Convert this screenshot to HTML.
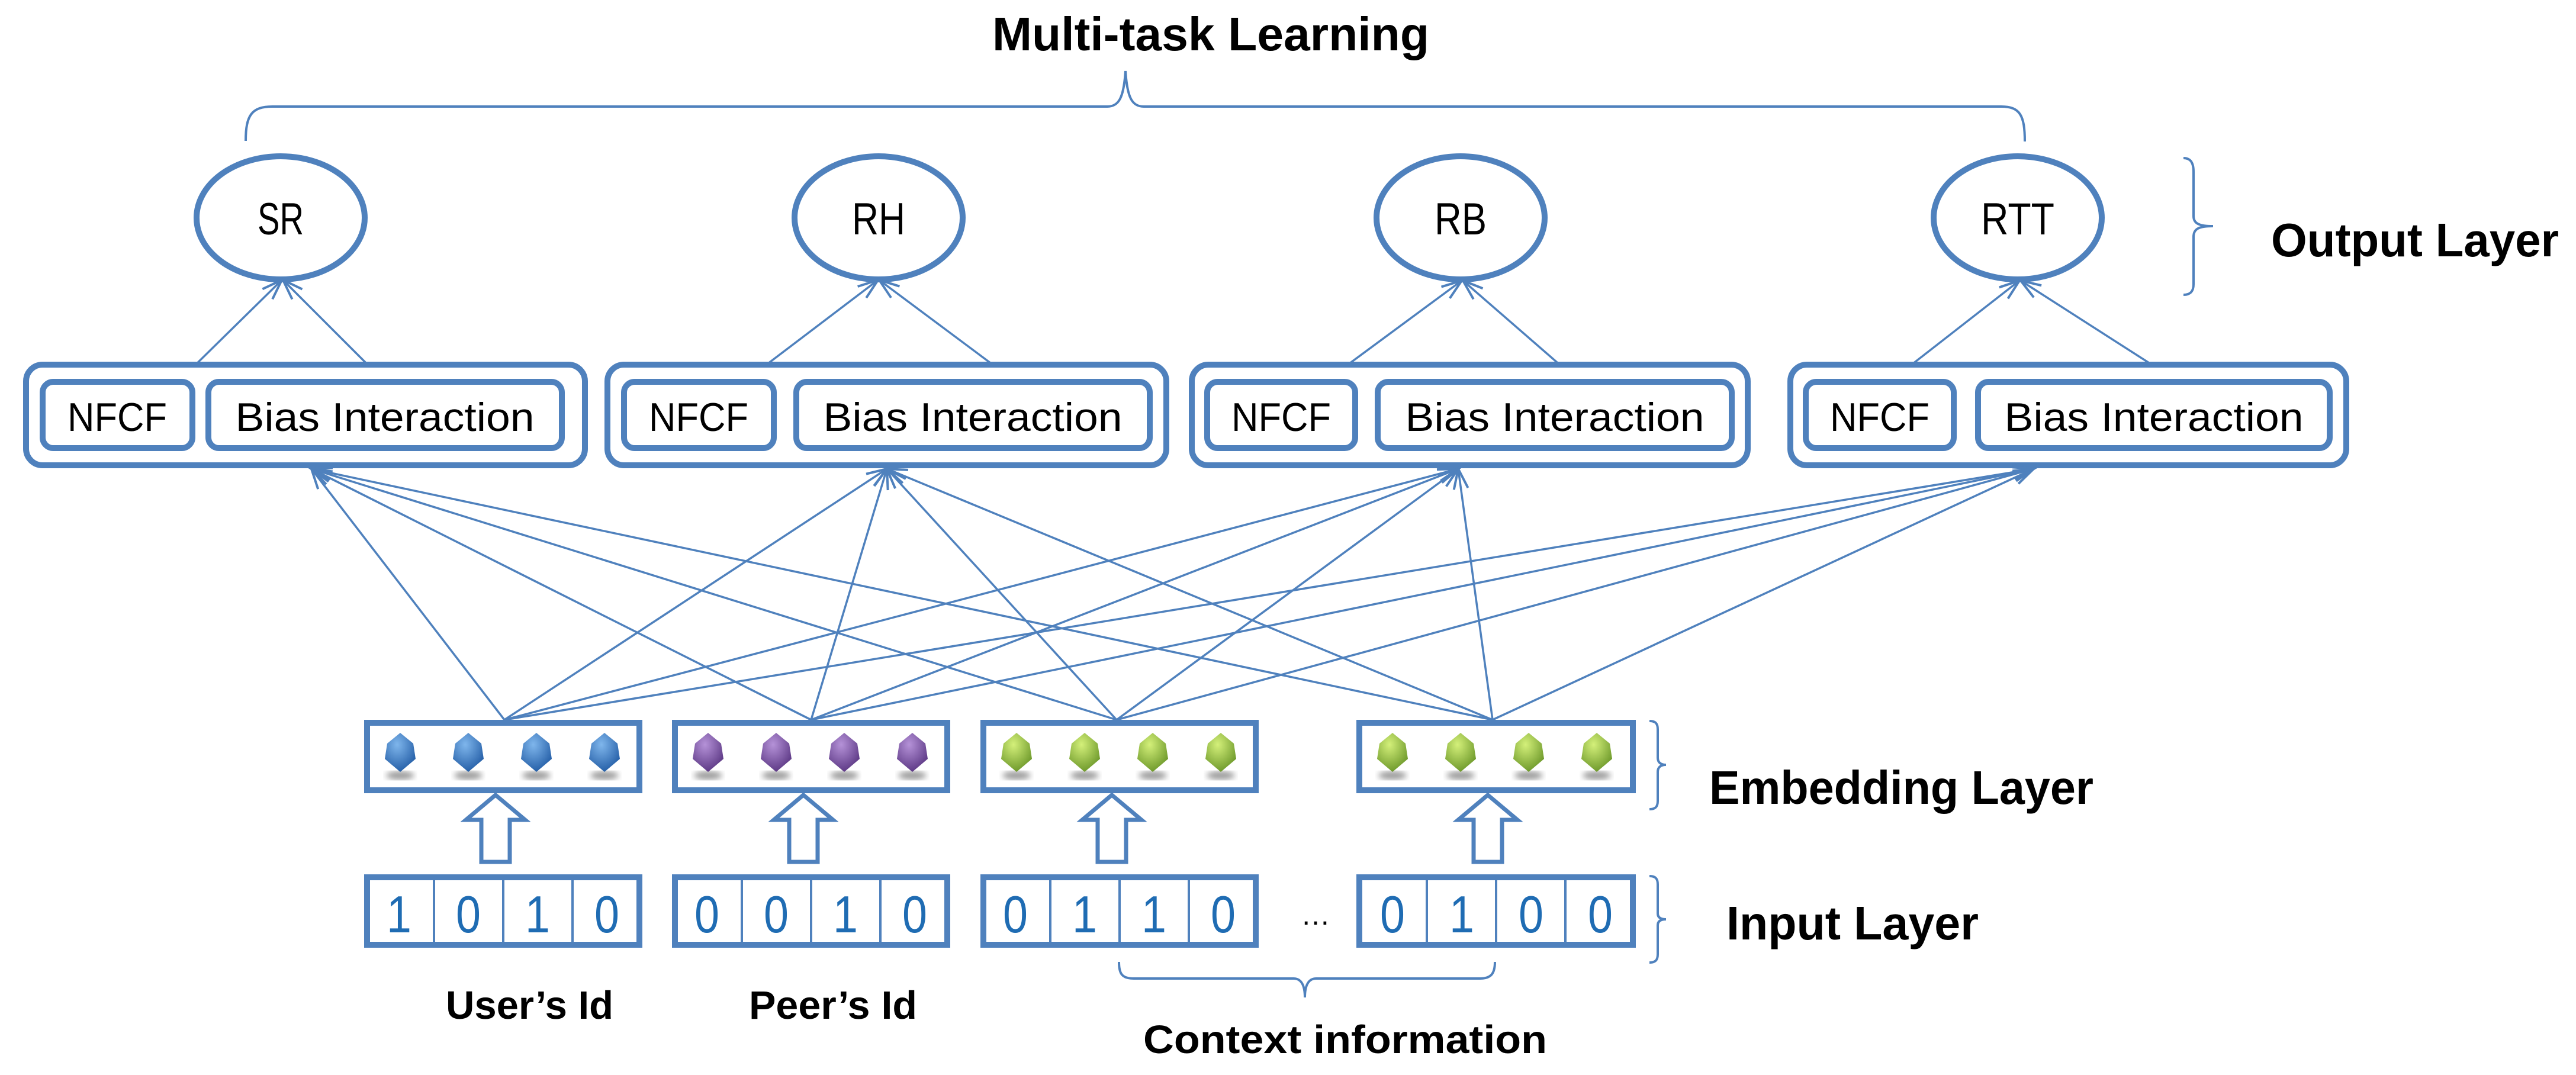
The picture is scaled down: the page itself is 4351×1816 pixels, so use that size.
<!DOCTYPE html>
<html><head><meta charset="utf-8"><style>
html,body{margin:0;padding:0;background:#fff}
svg{display:block}
text{font-family:"Liberation Sans",sans-serif}
</style></head><body>
<svg width="4351" height="1816" viewBox="0 0 4351 1816" xmlns="http://www.w3.org/2000/svg">
<defs>
<marker id="ah" markerUnits="userSpaceOnUse" markerWidth="44" markerHeight="44" refX="38" refY="20" orient="auto">
<path d="M4,8 L38,20 L4,32" fill="none" stroke="#4f81bd" stroke-width="4"/>
</marker>
<radialGradient id="gb" cx="40%" cy="30%" r="70%"><stop offset="0" stop-color="#7fb6ec"/><stop offset="1" stop-color="#2660a8"/></radialGradient>
<radialGradient id="gp" cx="40%" cy="30%" r="70%"><stop offset="0" stop-color="#b592d8"/><stop offset="1" stop-color="#5e3a86"/></radialGradient>
<radialGradient id="gg" cx="40%" cy="30%" r="70%"><stop offset="0" stop-color="#d4f07a"/><stop offset="1" stop-color="#6f9a2c"/></radialGradient>
<filter id="bl"><feGaussianBlur stdDeviation="5"/></filter>
<g id="hb"><ellipse cx="0" cy="38" rx="24" ry="7" fill="#999" filter="url(#bl)"/><polygon points="0,-34 22,-16 26,10 0,32 -26,10 -22,-16" fill="url(#gb)"/></g>
<g id="hp"><ellipse cx="0" cy="38" rx="24" ry="7" fill="#999" filter="url(#bl)"/><polygon points="0,-34 22,-16 26,10 0,32 -26,10 -22,-16" fill="url(#gp)"/></g>
<g id="hg"><ellipse cx="0" cy="38" rx="24" ry="7" fill="#999" filter="url(#bl)"/><polygon points="0,-34 22,-16 26,10 0,32 -26,10 -22,-16" fill="url(#gg)"/></g>
</defs>

<text x="1676" y="85" font-size="80" font-weight="bold" textLength="738" lengthAdjust="spacingAndGlyphs">Multi-task Learning</text>
<path d="M415,238 C415,195 425,180 460,180 L1870,180 C1890,180 1898,165 1901,120 C1904,165 1912,180 1932,180 L3380,180 C3412,180 3420,195 3420,239" fill="none" stroke="#4f81bd" stroke-width="4"/>

<path d="M3688,267 C3700,267 3705,275 3705,290 L3705,365 C3705,378 3715,382 3738,382 C3715,382 3705,386 3705,400 L3705,480 C3705,492 3700,498 3688,498" fill="none" stroke="#4f81bd" stroke-width="4"/>
<text x="3836" y="433" font-size="80" font-weight="bold" textLength="486" lengthAdjust="spacingAndGlyphs">Output Layer</text>

<g fill="#fff" stroke="#4f81bd" stroke-width="10">
<ellipse cx="474" cy="368" rx="142" ry="104"/>
<ellipse cx="1484" cy="368" rx="142" ry="104"/>
<ellipse cx="2467" cy="368" rx="142" ry="104"/>
<ellipse cx="3408" cy="368" rx="142" ry="104"/>
</g>
<g font-size="76" text-anchor="middle">
<text x="474" y="396" textLength="78" lengthAdjust="spacingAndGlyphs">SR</text>
<text x="1484" y="396" textLength="90" lengthAdjust="spacingAndGlyphs">RH</text>
<text x="2467" y="396" textLength="88" lengthAdjust="spacingAndGlyphs">RB</text>
<text x="3408" y="396" textLength="124" lengthAdjust="spacingAndGlyphs">RTT</text>
</g>

<g stroke="#4f81bd" stroke-width="3.5" fill="none" marker-end="url(#ah)">
<line x1="306" y1="640" x2="476" y2="473"/>
<line x1="645" y1="640" x2="478" y2="473"/>
<line x1="1263" y1="640" x2="1483" y2="473"/>
<line x1="1709" y1="640" x2="1485" y2="473"/>
<line x1="2244" y1="640" x2="2469" y2="474"/>
<line x1="2662" y1="640" x2="2471" y2="474"/>
<line x1="3198" y1="640" x2="3411" y2="474"/>
<line x1="3672" y1="640" x2="3413" y2="474"/>
</g>

<g fill="#fff" stroke="#4f81bd" stroke-width="10">
<rect x="44" y="616" width="944" height="170" rx="28"/>
<rect x="1026" y="616" width="944" height="170" rx="28"/>
<rect x="2013" y="616" width="939" height="170" rx="28"/>
<rect x="3024" y="616" width="939" height="170" rx="28"/>
<rect x="72" y="645" width="253" height="112" rx="18"/>
<rect x="352" y="645" width="597" height="112" rx="18"/>
<rect x="1054" y="645" width="253" height="112" rx="18"/>
<rect x="1345" y="645" width="597" height="112" rx="18"/>
<rect x="2039" y="645" width="250" height="112" rx="18"/>
<rect x="2327" y="645" width="598" height="112" rx="18"/>
<rect x="3050" y="645" width="250" height="112" rx="18"/>
<rect x="3341" y="645" width="594" height="112" rx="18"/>
</g>
<g font-size="68" text-anchor="middle">
<text x="198" y="728" textLength="168" lengthAdjust="spacingAndGlyphs">NFCF</text>
<text x="650" y="728" textLength="505" lengthAdjust="spacingAndGlyphs">Bias Interaction</text>
<text x="1180" y="728" textLength="168" lengthAdjust="spacingAndGlyphs">NFCF</text>
<text x="1643" y="728" textLength="505" lengthAdjust="spacingAndGlyphs">Bias Interaction</text>
<text x="2164" y="728" textLength="168" lengthAdjust="spacingAndGlyphs">NFCF</text>
<text x="2626" y="728" textLength="505" lengthAdjust="spacingAndGlyphs">Bias Interaction</text>
<text x="3175" y="728" textLength="168" lengthAdjust="spacingAndGlyphs">NFCF</text>
<text x="3638" y="728" textLength="505" lengthAdjust="spacingAndGlyphs">Bias Interaction</text>
</g>

<g stroke="#4f81bd" stroke-width="3.5" fill="none" marker-end="url(#ah)">
<line x1="852" y1="1216" x2="526" y2="792"/>
<line x1="852" y1="1216" x2="1498" y2="792"/>
<line x1="852" y1="1216" x2="2463" y2="792"/>
<line x1="852" y1="1216" x2="3435" y2="792"/>
<line x1="1370" y1="1216" x2="526" y2="792"/>
<line x1="1370" y1="1216" x2="1498" y2="792"/>
<line x1="1370" y1="1216" x2="2463" y2="792"/>
<line x1="1370" y1="1216" x2="3435" y2="792"/>
<line x1="1886" y1="1216" x2="526" y2="792"/>
<line x1="1886" y1="1216" x2="1498" y2="792"/>
<line x1="1886" y1="1216" x2="2463" y2="792"/>
<line x1="1886" y1="1216" x2="3435" y2="792"/>
<line x1="2521" y1="1216" x2="526" y2="792"/>
<line x1="2521" y1="1216" x2="1498" y2="792"/>
<line x1="2521" y1="1216" x2="2463" y2="792"/>
<line x1="2521" y1="1216" x2="3435" y2="792"/>
</g>

<g fill="#fff" stroke="#4f81bd" stroke-width="10">
<rect x="620" y="1221" width="460" height="114"/>
<rect x="1140" y="1221" width="460" height="114"/>
<rect x="1661" y="1221" width="460" height="114"/>
<rect x="2296" y="1221" width="462" height="114"/>
</g>
<use href="#hb" x="676" y="1272"/><use href="#hb" x="791" y="1272"/><use href="#hb" x="906" y="1272"/><use href="#hb" x="1021" y="1272"/>
<use href="#hp" x="1196" y="1272"/><use href="#hp" x="1311" y="1272"/><use href="#hp" x="1426" y="1272"/><use href="#hp" x="1541" y="1272"/>
<use href="#hg" x="1717" y="1272"/><use href="#hg" x="1832" y="1272"/><use href="#hg" x="1947" y="1272"/><use href="#hg" x="2062" y="1272"/>
<use href="#hg" x="2352" y="1272"/><use href="#hg" x="2467" y="1272"/><use href="#hg" x="2582" y="1272"/><use href="#hg" x="2697" y="1272"/>

<g fill="#fff" stroke="#4f81bd" stroke-width="7" stroke-linejoin="miter">
<path d="M837,1343 L887,1385 L861,1385 L861,1456 L813,1456 L813,1385 L787,1385 Z"/>
<path d="M1357,1343 L1407,1385 L1381,1385 L1381,1456 L1333,1456 L1333,1385 L1307,1385 Z"/>
<path d="M1878,1343 L1928,1385 L1902,1385 L1902,1456 L1854,1456 L1854,1385 L1828,1385 Z"/>
<path d="M2513,1343 L2563,1385 L2537,1385 L2537,1456 L2489,1456 L2489,1385 L2463,1385 Z"/>
</g>

<g fill="#fff" stroke="#4f81bd" stroke-width="10">
<rect x="620" y="1482" width="460" height="114"/>
<rect x="1140" y="1482" width="460" height="114"/>
<rect x="1661" y="1482" width="460" height="114"/>
<rect x="2296" y="1482" width="462" height="114"/>
</g>
<g stroke="#4f81bd" stroke-width="4">
<line x1="733" y1="1482" x2="733" y2="1596"/><line x1="850" y1="1482" x2="850" y2="1596"/><line x1="967" y1="1482" x2="967" y2="1596"/>
<line x1="1253" y1="1482" x2="1253" y2="1596"/><line x1="1370" y1="1482" x2="1370" y2="1596"/><line x1="1487" y1="1482" x2="1487" y2="1596"/>
<line x1="1774" y1="1482" x2="1774" y2="1596"/><line x1="1891" y1="1482" x2="1891" y2="1596"/><line x1="2008" y1="1482" x2="2008" y2="1596"/>
<line x1="2410" y1="1482" x2="2410" y2="1596"/><line x1="2527" y1="1482" x2="2527" y2="1596"/><line x1="2644" y1="1482" x2="2644" y2="1596"/>
</g>
<g font-size="88" fill="#1f6cb3" text-anchor="middle">
<text x="674" y="1575" textLength="42" lengthAdjust="spacingAndGlyphs">1</text><text x="791" y="1575" textLength="42" lengthAdjust="spacingAndGlyphs">0</text><text x="908" y="1575" textLength="42" lengthAdjust="spacingAndGlyphs">1</text><text x="1025" y="1575" textLength="42" lengthAdjust="spacingAndGlyphs">0</text>
<text x="1194" y="1575" textLength="42" lengthAdjust="spacingAndGlyphs">0</text><text x="1311" y="1575" textLength="42" lengthAdjust="spacingAndGlyphs">0</text><text x="1428" y="1575" textLength="42" lengthAdjust="spacingAndGlyphs">1</text><text x="1545" y="1575" textLength="42" lengthAdjust="spacingAndGlyphs">0</text>
<text x="1715" y="1575" textLength="42" lengthAdjust="spacingAndGlyphs">0</text><text x="1832" y="1575" textLength="42" lengthAdjust="spacingAndGlyphs">1</text><text x="1949" y="1575" textLength="42" lengthAdjust="spacingAndGlyphs">1</text><text x="2066" y="1575" textLength="42" lengthAdjust="spacingAndGlyphs">0</text>
<text x="2352" y="1575" textLength="42" lengthAdjust="spacingAndGlyphs">0</text><text x="2469" y="1575" textLength="42" lengthAdjust="spacingAndGlyphs">1</text><text x="2586" y="1575" textLength="42" lengthAdjust="spacingAndGlyphs">0</text><text x="2703" y="1575" textLength="42" lengthAdjust="spacingAndGlyphs">0</text>
</g>
<text x="2222" y="1562" font-size="50" text-anchor="middle">…</text>

<g fill="none" stroke="#4f81bd" stroke-width="4">
<path d="M2786,1218 C2796,1218 2800,1222 2800,1232 L2800,1280 C2800,1288 2805,1292 2814,1292 C2805,1292 2800,1296 2800,1304 L2800,1353 C2800,1363 2796,1367 2786,1367"/>
<path d="M2786,1480 C2796,1480 2800,1484 2800,1494 L2800,1543 C2800,1550 2805,1553 2814,1553 C2805,1553 2800,1556 2800,1563 L2800,1612 C2800,1622 2796,1626 2786,1626"/>
<path d="M1890,1625 C1890,1645 1895,1653 1915,1653 L2185,1653 C2198,1653 2204,1665 2204,1685 C2204,1665 2210,1653 2223,1653 L2500,1653 C2518,1653 2525,1645 2525,1625"/>
</g>
<g font-weight="bold">
<text x="2887" y="1358" font-size="80" textLength="649" lengthAdjust="spacingAndGlyphs">Embedding Layer</text>
<text x="2916" y="1587" font-size="80" textLength="426" lengthAdjust="spacingAndGlyphs">Input Layer</text>
<text x="753" y="1721" font-size="67" textLength="283" lengthAdjust="spacingAndGlyphs">User’s Id</text>
<text x="1265" y="1721" font-size="67" textLength="284" lengthAdjust="spacingAndGlyphs">Peer’s Id</text>
<text x="1931" y="1779" font-size="67" textLength="682" lengthAdjust="spacingAndGlyphs">Context information</text>
</g>
</svg>
</body></html>
